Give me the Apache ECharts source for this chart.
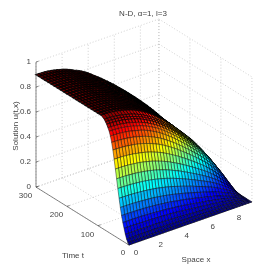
<!DOCTYPE html>
<html><head><meta charset="utf-8"><style>html,body{margin:0;background:#fff}#c{width:277px;height:277px}</style>
<script src="https://cdn.jsdelivr.net/npm/echarts@6/dist/echarts.min.js"></script></head><body><div id="c"></div>
<script>
var xTicks=[0,2,4,6,8],tTicks=[0,100,200,300],zTicks=[0,.2,.4,.6,.8,1];
var XMAX=9.42,ZTOP=.9;
var spaceX=[0,.24,.47,.71,.94,1.18,1.41,1.65,1.88,2.12,2.36,2.59,2.83,3.06,3.3,3.53,3.77,4,4.24,4.47,4.71,4.95,5.18,5.42,5.65,5.89,6.12,6.36,6.59,6.83,7.07,7.3,7.54,7.77,8.01,8.24,8.48,8.71,8.95,9.18,9.42];
var timeT=[0,4,8,12,16,20,24,28,32,36,40,44,48,52,56,60,64,68,72,76,80,90,100,110,120,130,140,150,160,170,180,190,200,210,220,230,240,250,260,270,280,290,300];
// solution u(t,x) in hundredths; one row per time, one column per x
var head=[90,89.9,89.8,89.6,89.3,88.9,88.4,87.8,87.1,86.3,85.4,84.4,83.2,81.9];
var uRows=[
[0,0,0,0,0,0,0,0,0,0,0,0,0,0,0,0,0,0,0,0,0,0,0,0,0,0,0,0,0,0,0,0,0,0,0,0,0,0,0,0,0],
[1.4,1.3,1.3,1.3,1.3,1.3,1.3,1.3,1.3,1.3,1.3,1.3,1.2,1.2,1.2,1.2,1.2,1.1,1.1,1.1,1,1,1,.9,.9,.9,.8,.8,.7,.7,.6,.6,.5,.5,.4,.4,.3,.2,.2,.1,0],
[3.6,3.6,3.6,3.6,3.6,3.6,3.5,3.5,3.5,3.5,3.4,3.4,3.3,3.3,3.2,3.2,3.1,3,2.9,2.8,2.8,2.7,2.6,2.5,2.4,2.3,2.2,2.1,2,1.8,1.7,1.6,1.5,1.3,1.2,1,.8,.7,.5,.2,0],
[6.8,6.7,6.7,6.7,6.7,6.7,6.6,6.6,6.5,6.5,6.4,6.3,6.2,6.1,6,5.9,5.8,5.6,5.5,5.3,5.2,5,4.8,4.6,4.5,4.3,4.1,3.9,3.7,3.5,3.2,3,2.7,2.5,2.2,1.9,1.6,1.2,.9,.4,0],
[10.8,10.8,10.8,10.8,10.7,10.7,10.6,10.5,10.5,10.4,10.2,10.1,10,9.8,9.6,9.5,9.3,9,8.8,8.5,8.3,8,7.7,7.4,7.1,6.8,6.5,6.2,5.9,5.5,5.2,4.8,4.4,3.9,3.5,3,2.5,2,1.4,.7,0],
[14.9,14.8,14.8,14.8,14.7,14.7,14.6,14.5,14.4,14.2,14.1,13.9,13.7,13.5,13.3,13,12.7,12.4,12.1,11.7,11.4,11,10.6,10.2,9.8,9.4,8.9,8.5,8.1,7.6,7.1,6.6,6,5.4,4.8,4.1,3.4,2.7,1.9,1,0],
[19.8,19.8,19.8,19.7,19.6,19.6,19.4,19.3,19.2,19,18.8,18.6,18.3,18,17.7,17.4,17,16.6,16.1,15.7,15.2,14.7,14.1,13.6,13.1,12.5,11.9,11.3,10.7,10.1,9.5,8.8,8,7.2,6.4,5.5,4.6,3.6,2.5,1.3,0],
[25.7,25.6,25.6,25.5,25.5,25.3,25.2,25,24.8,24.6,24.3,24.1,23.7,23.3,22.9,22.5,22,21.5,20.9,20.3,19.7,19,18.3,17.6,16.9,16.2,15.4,14.7,13.9,13.1,12.3,11.4,10.4,9.4,8.3,7.2,6,4.7,3.2,1.7,0],
[32.4,32.4,32.3,32.3,32.1,32,31.8,31.6,31.4,31.1,30.7,30.4,30,29.5,28.9,28.4,27.8,27.1,26.4,25.6,24.8,24,23.1,22.3,21.4,20.4,19.5,18.5,17.6,16.6,15.5,14.4,13.1,11.8,10.5,9,7.5,5.9,4.1,2.1,0],
[39.6,39.6,39.5,39.4,39.3,39.1,38.9,38.6,38.3,38,37.6,37.1,36.6,36,35.4,34.7,34,33.1,32.3,31.3,30.4,29.3,28.3,27.2,26.1,25,23.8,22.7,21.5,20.2,19,17.6,16.1,14.5,12.8,11,9.2,7.2,5,2.6,0],
[46.8,46.7,46.7,46.6,46.4,46.2,46,45.7,45.3,44.9,44.4,43.9,43.3,42.6,41.8,41,40.1,39.2,38.1,37,35.9,34.7,33.4,32.2,30.9,29.5,28.2,26.8,25.4,23.9,22.4,20.7,19,17.1,15.1,13.1,10.9,8.5,5.9,3.1,0],
[54,53.9,53.9,53.8,53.6,53.3,53,52.7,52.3,51.8,51.2,50.6,49.9,49.1,48.2,47.3,46.3,45.2,44,42.7,41.4,40,38.6,37.1,35.6,34.1,32.5,30.9,29.3,27.6,25.9,23.9,21.9,19.7,17.5,15.1,12.5,9.8,6.8,3.5,0],
[61.2,61.1,61.1,60.9,60.7,60.5,60.1,59.7,59.2,58.7,58.1,57.4,56.6,55.7,54.7,53.7,52.5,51.2,49.8,48.4,46.9,45.4,43.7,42.1,40.4,38.6,36.9,35,33.2,31.3,29.3,27.1,24.8,22.4,19.8,17.1,14.2,11.2,7.8,4,0],
[68,67.9,67.8,67.6,67.4,67.1,66.7,66.3,65.8,65.2,64.5,63.7,62.8,61.8,60.7,59.6,58.3,56.9,55.3,53.8,52.1,50.4,48.5,46.7,44.8,42.9,40.9,38.9,36.8,34.7,32.5,30.1,27.6,24.8,22,19,15.8,12.4,8.6,4.5,0],
[73.4,73.3,73.2,73,72.8,72.5,72,71.6,71,70.3,69.6,68.8,67.8,66.7,65.5,64.3,62.9,61.4,59.7,58,56.2,54.4,52.4,50.4,48.4,46.3,44.2,42,39.8,37.5,35.1,32.5,29.7,26.8,23.7,20.5,17,13.4,9.3,4.8,0],
[77.9,77.8,77.7,77.5,77.2,76.9,76.5,75.9,75.3,74.6,73.9,73,72,70.8,69.5,68.2,66.8,65.1,63.4,61.6,59.7,57.7,55.6,53.5,51.4,49.1,46.9,44.5,42.2,39.8,37.3,34.5,31.6,28.5,25.2,21.7,18.1,14.2,9.9,5.1,0],
[81,80.9,80.8,80.6,80.4,80,79.6,79,78.4,77.7,76.9,76,74.9,73.7,72.4,71,69.5,67.8,66,64.1,62.1,60,57.9,55.7,53.5,51.1,48.8,46.4,43.9,41.4,38.8,35.9,32.9,29.6,26.2,22.6,18.8,14.8,10.3,5.3,0],
[83.3,83.2,83.1,82.9,82.6,82.2,81.8,81.2,80.6,79.8,79,78.1,77,75.8,74.4,73,71.4,69.7,67.8,65.9,63.8,61.7,59.5,57.3,54.9,52.5,50.1,47.6,45.1,42.6,39.9,36.9,33.8,30.4,26.9,23.2,19.3,15.2,10.5,5.5,0],
[85.5,85.4,85.3,85.1,84.8,84.5,84,83.4,82.7,82,81.1,80.2,79,77.8,76.4,75,73.3,71.5,69.6,67.6,65.6,63.4,61.1,58.8,56.4,54,51.5,48.9,46.4,43.7,40.9,37.9,34.7,31.3,27.6,23.8,19.9,15.6,10.8,5.6,0],
[86.9,86.8,86.7,86.5,86.2,85.8,85.3,84.7,84.1,83.3,82.4,81.4,80.3,79,77.6,76.1,74.5,72.7,70.7,68.7,66.6,64.4,62,59.7,57.3,54.8,52.3,49.7,47.1,44.4,41.6,38.5,35.2,31.7,28.1,24.2,20.2,15.8,11,5.7,0],
[88.2,88.1,88,87.8,87.5,87.1,86.6,86,85.4,84.6,83.7,82.7,81.5,80.3,78.8,77.3,75.7,73.8,71.8,69.8,67.6,65.4,63,60.7,58.2,55.7,53.1,50.5,47.8,45.1,42.2,39.1,35.8,32.2,28.5,24.6,20.5,16.1,11.2,5.8,0],
head.concat([80.4,78.9,77.2,75.3,73.3,71.2,69,66.7,64.3,61.9,59.4,56.8,54.2,51.5,48.8,46,43.1,39.9,36.5,32.9,29.1,25.1,20.9,16.4,11.4,5.9,0]),
head.concat([80.4,78.9,77.2,75.4,73.4,71.3,69.1,66.8,64.4,62,59.6,57,54.4,51.7,49.1,46.3,43.4,40.2,36.9,33.3,29.6,25.7,21.5,17.1,12.2,6.9,1.1]),
head.concat([80.5,79,77.3,75.4,73.4,71.4,69.2,66.9,64.6,62.2,59.7,57.2,54.6,52,49.3,46.6,43.7,40.6,37.3,33.8,30.1,26.2,22.2,17.9,13.1,7.8,2.2]),
head.concat([80.5,79,77.3,75.5,73.5,71.4,69.3,67,64.7,62.3,59.9,57.4,54.8,52.2,49.6,46.8,44,40.9,37.7,34.2,30.6,26.8,22.8,18.6,13.9,8.8,3.3]),
head.concat([80.5,79,77.4,75.5,73.6,71.5,69.4,67.1,64.8,62.5,60.1,57.6,55,52.4,49.8,47.1,44.3,41.3,38,34.7,31.1,27.4,23.5,19.3,14.7,9.7,4.4]),
head.concat([80.5,79,77.4,75.6,73.6,71.6,69.5,67.3,65,62.6,60.2,57.8,55.3,52.7,50.1,47.4,44.6,41.6,38.4,35.1,31.6,27.9,24.1,20,15.6,10.7,5.5]),
head.concat([80.5,79.1,77.4,75.6,73.7,71.7,69.6,67.4,65.1,62.8,60.4,57.9,55.5,52.9,50.3,47.7,44.9,41.9,38.8,35.5,32.1,28.5,24.8,20.8,16.4,11.7,6.7]),
head.concat([80.6,79.1,77.5,75.7,73.8,71.8,69.7,67.5,65.2,62.9,60.6,58.1,55.7,53.1,50.6,47.9,45.2,42.3,39.2,36,32.6,29.1,25.4,21.5,17.2,12.6,7.8]),
head.concat([80.6,79.1,77.5,75.7,73.8,71.9,69.8,67.6,65.3,63.1,60.7,58.3,55.9,53.4,50.8,48.2,45.5,42.6,39.6,36.4,33.1,29.6,26,22.2,18.1,13.6,8.9]),
head.concat([80.6,79.2,77.5,75.8,73.9,71.9,69.9,67.7,65.5,63.2,60.9,58.5,56.1,53.6,51.1,48.5,45.8,43,40,36.9,33.6,30.2,26.7,23,18.9,14.6,10]),
head.concat([80.6,79.2,77.6,75.8,74,72,70,67.8,65.6,63.4,61.1,58.7,56.3,53.8,51.3,48.8,46.1,43.3,40.4,37.3,34.1,30.8,27.3,23.7,19.7,15.5,11.1]),
head.concat([80.7,79.2,77.6,75.9,74,72.1,70,67.9,65.7,63.5,61.2,58.9,56.5,54.1,51.6,49,46.4,43.6,40.7,37.7,34.6,31.3,28,24.4,20.6,16.5,12.2]),
head.concat([80.7,79.2,77.7,75.9,74.1,72.2,70.1,68,65.8,63.7,61.4,59.1,56.7,54.3,51.8,49.3,46.7,44,41.1,38.2,35.1,31.9,28.6,25.1,21.4,17.4,13.3]),
head.concat([80.7,79.3,77.7,76,74.2,72.3,70.2,68.1,66,63.8,61.6,59.3,56.9,54.5,52.1,49.6,47,44.3,41.5,38.6,35.6,32.5,29.3,25.9,22.2,18.4,14.4]),
head.concat([80.7,79.3,77.7,76,74.2,72.3,70.3,68.2,66.1,64,61.7,59.5,57.1,54.8,52.3,49.9,47.3,44.6,41.9,39,36.1,33,29.9,26.6,23.1,19.4,15.5]),
head.concat([80.8,79.3,77.8,76.1,74.3,72.4,70.4,68.3,66.2,64.1,61.9,59.7,57.3,55,52.6,50.1,47.6,45,42.3,39.5,36.6,33.6,30.5,27.3,23.9,20.3,16.6]),
head.concat([80.8,79.4,77.8,76.1,74.4,72.5,70.5,68.5,66.4,64.3,62.1,59.9,57.6,55.2,52.8,50.4,47.9,45.3,42.7,39.9,37.1,34.2,31.2,28.1,24.7,21.3,17.8]),
head.concat([80.8,79.4,77.9,76.2,74.4,72.6,70.6,68.6,66.5,64.4,62.2,60,57.8,55.5,53.1,50.7,48.2,45.7,43.1,40.4,37.6,34.7,31.8,28.8,25.6,22.3,18.9]),
head.concat([80.8,79.4,77.9,76.2,74.5,72.7,70.7,68.7,66.6,64.6,62.4,60.2,58,55.7,53.3,51,48.5,46,43.4,40.8,38.1,35.3,32.5,29.5,26.4,23.2,20]),
head.concat([80.9,79.4,77.9,76.3,74.6,72.7,70.8,68.8,66.7,64.7,62.6,60.4,58.2,55.9,53.6,51.2,48.8,46.3,43.8,41.2,38.6,35.9,33.1,30.2,27.2,24.2,21.1]),
head.concat([80.9,79.5,78,76.4,74.6,72.8,70.9,68.9,66.9,64.9,62.7,60.6,58.4,56.2,53.9,51.5,49.1,46.7,44.2,41.7,39.1,36.4,33.8,31,28.1,25.1,22.2]),
head.concat([80.9,79.5,78,76.4,74.7,72.9,71,69,67,65,62.9,60.8,58.6,56.4,54.1,51.8,49.4,47,44.6,42.1,39.6,37,34.4,31.7,28.9,26.1,23.3])
];
function P(x,t,z){return [129+13.05*x-0.31*t,245-4.57*x-0.193*t-125*z];}
function jet(v){var s=Math.max(0,Math.min(1,v));function c(p){return Math.round(255*Math.max(0,Math.min(1,1.5-Math.abs(4*s-p))));}return 'rgb('+c(3)+','+c(2)+','+c(1)+')';}
var cells=[];
for(var a=timeT.length-2;a>=0;a--)for(var b=spaceX.length-2;b>=0;b--)cells.push([a,b]);
var c=echarts.init(document.getElementById('c'),null,{renderer:'canvas'});
var gridCol='#bdbdbd',axCol='#555',txtCol='#444';
function L(api,p,q,col,w,dash){var A=api.coord(p),B=api.coord(q);return {type:'line',shape:{x1:A[0],y1:A[1],x2:B[0],y2:B[1]},style:{stroke:col,lineWidth:w,lineDash:dash||null,fill:null},silent:true};}
function T(api,p,s,opt){var A=api.coord(p);return {type:'text',x:A[0],y:A[1],rotation:opt&&opt.rot||0,style:{text:s,fill:txtCol,font:'8px "Liberation Sans"',align:opt&&opt.al||'center',verticalAlign:'middle'},silent:true};}
function frame(params,api){var e=[],d=[1,2];
 xTicks.concat([XMAX]).forEach(function(x){e.push(L(api,P(x,0,0),P(x,300,0),gridCol,.7,d));e.push(L(api,P(x,300,0),P(x,300,1),gridCol,.7,d));});
 tTicks.forEach(function(t){e.push(L(api,P(0,t,0),P(XMAX,t,0),gridCol,.7,d));e.push(L(api,P(XMAX,t,0),P(XMAX,t,1),gridCol,.7,d));});
 zTicks.forEach(function(z){e.push(L(api,P(0,300,z),P(XMAX,300,z),gridCol,.7,d));e.push(L(api,P(XMAX,300,z),P(XMAX,0,z),gridCol,.7,d));});
 e.push(L(api,P(0,300,0),P(0,300,1),axCol,.7));e.push(L(api,P(0,300,0),P(0,0,0),axCol,.7));e.push(L(api,P(0,0,0),P(XMAX,0,0),axCol,.7));
 zTicks.forEach(function(z){e.push(L(api,P(0,300,z),P(.2,300,z),axCol,.7));var p=P(0,300,z);e.push(T(api,[p[0]-5,p[1]],String(z),{al:'right'}));});
 tTicks.forEach(function(t){e.push(L(api,P(0,t,0),P(.2,t,0),axCol,.7));var p=P(0,t,0);e.push(T(api,t?[p[0]-10.5,p[1]+8.7]:[p[0]-6,p[1]+8],String(t)));});
 xTicks.forEach(function(x){e.push(L(api,P(x,0,0),P(x,6,0),axCol,.7));var p=P(x,0,0);e.push(T(api,x?[p[0]+5.5,p[1]+9]:[p[0]+7,p[1]+8],String(x)));});
 e.push(T(api,[73,256],'Time t'));e.push(T(api,[196,260],'Space x'));e.push(T(api,[16,126],'Solution u(t,x)',{rot:Math.PI/2}));
 return {type:'group',children:e};}
function cell(params,api){var a=api.value(0),b=api.value(1);
 var pts=[[a,b],[a,b+1],[a+1,b+1],[a+1,b]].map(function(q){return api.coord(P(spaceX[q[1]],timeT[q[0]],uRows[q[0]][q[1]]/100));});
 var v=(uRows[a][b]+uRows[a+1][b]+uRows[a][b+1]+uRows[a+1][b+1])/400/ZTOP;
 var t=timeT[a];
 return {type:'polygon',shape:{points:pts},style:{fill:jet(v),stroke:'rgba(0,0,0,.8)',lineWidth:t>=90?1.4:t>=68?.9:.55}};}
c.setOption({animation:false,
 title:{text:'N-D, \u03b1=1, l=3',left:138,top:5,textAlign:'center',textStyle:{fontSize:8,fontWeight:'normal',color:txtCol,fontFamily:'Liberation Sans'}},
 grid:{left:0,right:0,top:0,bottom:0},
 xAxis:{type:'value',min:0,max:277,show:false},yAxis:{type:'value',min:0,max:277,inverse:true,show:false},
 series:[{type:'custom',coordinateSystem:'cartesian2d',data:[[0,0]],renderItem:frame,silent:true,z:1,clip:false},
 {type:'custom',coordinateSystem:'cartesian2d',data:cells,renderItem:cell,silent:true,z:2,progressive:0,clip:false,encode:{x:0,y:1}}]});
</script></body></html>
